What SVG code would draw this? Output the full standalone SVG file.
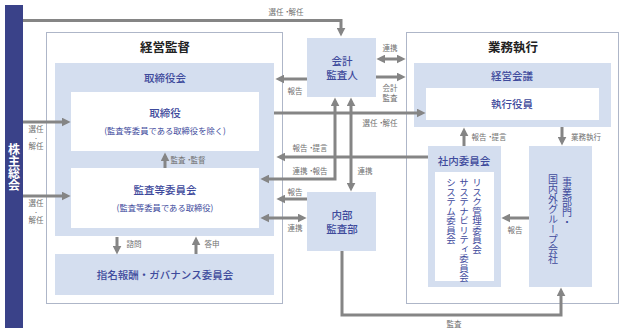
<svg xmlns="http://www.w3.org/2000/svg" width="624" height="334" viewBox="0 0 624 334">
<style>
text{font-family:"Noto Sans CJK JP","Noto Sans",sans-serif}
.outer{fill:#fff;stroke:#aeb6c8;stroke-width:1}
.lb{fill:#d4deef}
.wb{fill:#fff}
.t{fill:#3e4a9c;font-size:10.5px;font-weight:500;text-anchor:middle}
.s{fill:#3e4a9c;font-size:8.3px;text-anchor:middle}
.h{fill:#222;font-size:12.5px;font-weight:700;text-anchor:middle}
.l{fill:#707070;font-size:7.5px;text-anchor:middle}
.dot{fill:#707070;font-size:5px;text-anchor:middle}
.d{letter-spacing:-2.5px}
.v{fill:#3e4a9c;font-size:9.5px;writing-mode:vertical-rl}
.ln{fill:none;stroke:#858585;stroke-width:3}
</style>
<defs>
<marker id="a" viewBox="0 0 10 10" refX="6" refY="5" markerWidth="9" markerHeight="9" markerUnits="userSpaceOnUse" orient="auto-start-reverse">
<path d="M0,0 L10,5 L0,10 z" fill="#858585"/>
</marker>
</defs>

<g id="shareholders">
<rect x="5" y="5" width="18" height="323" fill="#3a4289"/>
<text x="14" y="143" style="writing-mode:vertical-rl;font-size:12px;font-weight:700;fill:#fff">株主総会</text>
</g>

<g id="supervision">
<rect class="outer" x="46.5" y="32.5" width="236" height="271"/>
<text class="h" x="165" y="52">経営監督</text>
</g>
<g id="board">
<rect class="lb" x="55" y="63" width="219" height="173"/>
<text class="t" x="165" y="82">取締役会</text>
</g>
<g id="directors">
<rect class="wb" x="71" y="92" width="188" height="59"/>
<text class="t" x="165" y="117">取締役</text>
<text class="s" x="165" y="134">(監査等委員である取締役を除く)</text>
</g>
<g id="audit-committee">
<rect class="wb" x="71" y="168" width="188" height="60"/>
<text class="t" x="165" y="194">監査等委員会</text>
<text class="s" x="165" y="211">(監査等委員である取締役)</text>
</g>
<g id="nomination">
<rect class="lb" x="55" y="254" width="219" height="41"/>
<text class="t" x="165" y="279">指名報酬・ガバナンス委員会</text>
</g>
<g id="accounting-auditor">
<rect class="lb" x="307" y="38" width="69" height="59"/>
<text class="t" x="342" y="65">会計</text>
<text class="t" x="342" y="79">監査人</text>
</g>
<g id="internal-audit">
<rect class="lb" x="307" y="192" width="69" height="59"/>
<text class="t" x="342" y="219">内部</text>
<text class="t" x="342" y="233">監査部</text>
</g>
<g id="execution">
<rect class="outer" x="406.5" y="32.5" width="212" height="271"/>
<text class="h" x="513" y="52">業務執行</text>
</g>
<g id="management-meeting">
<rect class="lb" x="414" y="63" width="197" height="64"/>
<text class="t" x="512" y="80">経営会議</text>
</g>
<g id="officers">
<rect class="wb" x="426" y="88" width="173" height="32"/>
<text class="t" x="512" y="108">執行役員</text>
</g>
<g id="internal-committees">
<rect class="lb" x="428" y="146" width="73" height="141"/>
<text class="t" x="464" y="165">社内委員会</text>
<rect class="wb" x="435" y="172" width="59" height="109"/>
<text class="v" x="477" y="178">リスク管理委員会</text>
<text class="v" x="464" y="178">サステナビリティ委員会</text>
<text class="v" x="451" y="178">システム委員会</text>
</g>
<g id="business-units">
<rect class="lb" x="529" y="146" width="63" height="141"/>
<text class="v" x="567" y="177" style="font-size:10px">事業部門・</text>
<text class="v" x="553" y="174" style="font-size:10px">国内外グループ会社</text>
</g>

<g id="connectors">
<path class="ln" d="M23,20.5 H341 V33" marker-end="url(#a)"/>
<path class="ln" d="M23,122 H67" marker-end="url(#a)"/>
<path class="ln" d="M23,196 H67" marker-end="url(#a)"/>
<path class="ln" d="M165,168 V156" marker-end="url(#a)"/>
<path class="ln" d="M117,237 V251" marker-end="url(#a)"/>
<path class="ln" d="M196,254 V240" marker-end="url(#a)"/>
<path class="ln" d="M307,79 H279" marker-end="url(#a)"/>
<path class="ln" d="M380,59 H402" marker-start="url(#a)" marker-end="url(#a)"/>
<path class="ln" d="M376,77 H402" marker-end="url(#a)"/>
<path class="ln" d="M274,113 H422" marker-end="url(#a)"/>
<path class="ln" d="M264,179 H335 V101" marker-start="url(#a)" marker-end="url(#a)"/>
<path class="ln" d="M351,101 V188" marker-start="url(#a)" marker-end="url(#a)"/>
<path class="ln" d="M428,157 H280" marker-end="url(#a)"/>
<path class="ln" d="M307,199 H280" marker-end="url(#a)"/>
<path class="ln" d="M264,218 H303" marker-start="url(#a)" marker-end="url(#a)"/>
<path class="ln" d="M464,146 V131" marker-end="url(#a)"/>
<path class="ln" d="M562,127 V142" marker-end="url(#a)"/>
<path class="ln" d="M529,218 H505" marker-end="url(#a)"/>
<path class="ln" d="M342,251 V315 H561 V291" marker-end="url(#a)"/>
</g>

<g id="labels">
<text class="l" x="286" y="15">選任<tspan class="d">・</tspan>解任</text>
<text class="l" x="36" y="132">選任</text>
<text class="dot" x="36" y="140">・</text>
<text class="l" x="36" y="149">解任</text>
<text class="l" x="36" y="206">選任</text>
<text class="dot" x="36" y="214">・</text>
<text class="l" x="36" y="223">解任</text>
<text class="l" x="188" y="163">監査<tspan class="d">・</tspan>監督</text>
<text class="l" x="134" y="247">諮問</text>
<text class="l" x="212" y="247">答申</text>
<text class="l" x="295" y="94">報告</text>
<text class="l" x="390" y="51">連携</text>
<text class="l" x="390" y="91">会計</text>
<text class="l" x="390" y="101">監査</text>
<text class="l" x="380" y="126">選任<tspan class="d">・</tspan>解任</text>
<text class="l" x="310" y="151">報告<tspan class="d">・</tspan>提言</text>
<text class="l" x="310" y="174">連携<tspan class="d">・</tspan>報告</text>
<text class="l" x="365" y="174">連携</text>
<text class="l" x="295" y="195">報告</text>
<text class="l" x="295" y="231">連携</text>
<text class="l" x="489" y="140">報告<tspan class="d">・</tspan>提言</text>
<text class="l" x="586" y="140">業務執行</text>
<text class="l" x="515" y="233">報告</text>
<text class="l" x="454" y="327">監査</text>
</g>
</svg>
